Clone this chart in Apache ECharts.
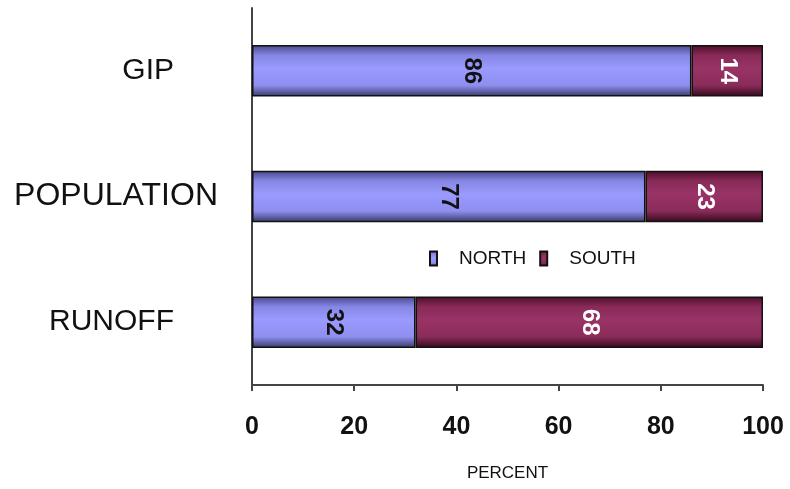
<!DOCTYPE html>
<html>
<head>
<meta charset="utf-8">
<script src="https://cdn.jsdelivr.net/npm/echarts@6/dist/echarts.min.js"></script>
<style>
html,body{margin:0;padding:0;background:#fff;}
#chart{width:790px;height:489px;}
</style>
</head>
<body>
<div id="chart"></div>
<script>
const categories = ['RUNOFF', 'POPULATION', 'GIP'];
const northValues = [32, 77, 86];
const southValues = [68, 23, 14];
const xTicks = [0, 20, 40, 60, 80, 100];
const seriesNames = ['NORTH', 'SOUTH'];

const chart = echarts.init(document.getElementById('chart'));

function grad(stops) {
  return new echarts.graphic.LinearGradient(0, 0, 0, 1, stops.map((c) => ({offset: c[0], color: c[1]})));
}
const northFill = grad([[0,'#484888'],[0.2,'#8686e4'],[0.45,'#9a9aff'],[0.78,'#8f8ff0'],[1,'#383868']]);
const southFill = grad([[0,'#4a0e26'],[0.2,'#882a58'],[0.45,'#993366'],[0.78,'#8a2c5a'],[1,'#34081a']]);
const FF = 'Liberation Sans, Arial, sans-serif';

chart.setOption({
  animation: false,
  backgroundColor: '#fff',
  grid: {left: 252, right: 27, top: 8, bottom: 104, containLabel: false},
  legend: {
    data: seriesNames,
    left: 424, top: 244,
    itemWidth: 7, itemHeight: 14, itemGap: 13,
    icon: 'rect',
    textStyle: {fontFamily: FF, fontSize: 19, color: '#111', padding: [0, 0, 0, 17]}
  },
  xAxis: {
    type: 'value', min: 0, max: 100, interval: 20,
    name: 'PERCENT', nameLocation: 'middle', nameGap: 80,
    nameTextStyle: {fontFamily: FF, fontSize: 17, color: '#111'},
    axisLine: {show: true, lineStyle: {color: '#444', width: 2}},
    axisTick: {show: true, length: 6, lineStyle: {color: '#444', width: 2}},
    splitLine: {show: false},
    axisLabel: {
      margin: 30, fontFamily: FF, fontWeight: 'bold', fontSize: 25, color: '#111',
      formatter: v => xTicks.includes(v) ? String(v) : ''
    }
  },
  yAxis: {
    type: 'category', data: categories,
    axisLine: {show: true, lineStyle: {color: '#444', width: 2}},
    axisTick: {show: false},
    axisLabel: {
      margin: 34, align: 'right', fontFamily: FF, fontSize: 30, color: '#111',
      formatter: v => v === 'POPULATION' ? '{p|' + v + '}' : '{s|' + v + '}',
      rich: {
        p: {fontFamily: FF, fontSize: 32, color: '#111'},
        s: {fontFamily: FF, fontSize: 30, color: '#111', padding: [0, 44, 0, 0]}
      }
    }
  },
  series: [
    {
      name: seriesNames[0], type: 'bar', stack: 'total', data: northValues, barWidth: '41%',
      itemStyle: {color: northFill, borderColor: '#111', borderWidth: 1.5},
      label: {show: true, position: 'inside', rotate: -90, color: '#111', fontWeight: 'bold', fontSize: 24, fontFamily: FF}
    },
    {
      name: seriesNames[1], type: 'bar', stack: 'total', data: southValues, barWidth: '41%',
      itemStyle: {color: southFill, borderColor: '#111', borderWidth: 1.5},
      label: {show: true, position: 'inside', rotate: -90, color: '#fff', fontWeight: 'bold', fontSize: 24, fontFamily: FF}
    }
  ]
});
</script>
</body>
</html>
